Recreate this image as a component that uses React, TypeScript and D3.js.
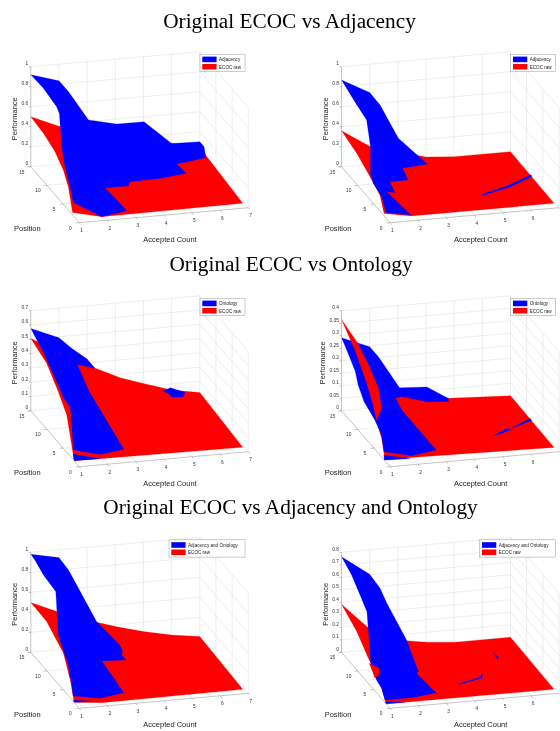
import React from 'react';
import * as d3 from 'd3';

type Vertex = [number, number, number]; // accepted count, position, performance

const countTicks = [1, 2, 3, 4, 5, 6, 7];
const positionTicks = [0, 5, 10, 15];
const perfTicksOne = [0, 0.2, 0.4, 0.6, 0.8, 1];
const perfTicksOnt1 = [0, 0.1, 0.2, 0.3, 0.4, 0.5, 0.6, 0.7];
const perfTicksOnt2 = [0, 0.05, 0.1, 0.15, 0.2, 0.25, 0.3, 0.35, 0.4];
const perfTicksBoth2 = [0, 0.1, 0.2, 0.3, 0.4, 0.5, 0.6, 0.7, 0.8];

const titles = ['Original ECOC vs Adjacency', 'Original ECOC vs Ontology', 'Original ECOC vs Adjacency and Ontology'];
const legendNames = ['Adjacency', 'Ontology', 'Adjacency and Ontology'];
const rawName = 'ECOC raw';

// visible regions of the surfaces
const rawA1: Vertex[] = [[1,15,.5],[2,15,.38],[7,15,.043],[6.94,1.2,0],[1.91,1,0],[1.07,2.7,0],[1,3.4,.23],[1,4.9,.34],[1,7.5,.43],[1,11.1,.48]];
const adjA1: Vertex[] = [[1,15,.92],[2,15,.835],[2.34,15,.717],[3.05,15,.417],[4.05,15,.35],[5.02,15,.35],[6,15,.108],[7,15,.1],[7,13.7,.1],[7,13.1,.01],[5.74,11.2,.05],[5.79,8.67,.05],[4.78,8,.05],[3.7,7.83,.05],[3.52,6.8,.05],[2.71,6.89,.05],[2.85,1.44,.02],[1.85,.5,.02],[1.24,3.94,.05],[1.2,4.6,.18],[1.2,6.2,.32],[1.2,7.2,.487],[1.2,7.9,.793],[1.1,7.9,.863],[1,11.1,.93]];

const rawA2: Vertex[] = [[1,15,.36],[2,15,.18],[4,15,.023],[5,15,0],[7,15,0],[6.96,1.2,0],[1.9,1.2,0],[1.07,2.45,0],[1,3.1,.16],[1,6.7,.24],[1,10.3,.31]];
const adjA2: Vertex[] = [[1,15,.867],[2,15,.718],[2.37,15,.582],[3.02,15,.233],[3.82,13.03,.03],[2.88,12.5,.03],[2.73,9.47,.03],[2.08,9.46,.03],[1.94,6.6,.03],[1.69,7.04,.03],[1.91,1.44,0],[1.16,2.58,0],[1.18,4.17,.1],[1,5.18,.2],[1.05,6.49,.25],[1.1,6.9,.5],[1.02,7.41,.75],[1,10.6,.8]];
const adjA2Streak: Vertex[] = [[4.84,5.04,0],[5.9,6.55,0],[7.01,8.83,0],[7.01,8.39,0],[5.98,6.23,0],[4.86,4.75,0]];

const rawO1: Vertex[] = [[1,15,.506],[3.25,15,.262],[4.17,15,.175],[5,15,.121],[6,15,.057],[7,15,.023],[6.94,1.2,0],[2.03,1.54,0],[1,1.6,0],[1,2.7,.128],[1,3.9,.26],[1,6.5,.355],[1,10.1,.46]];
const ontO1: Vertex[] = [[1,15,.576],[2,15,.494],[2.46,15,.41],[3,15,.327],[3.28,15,.257],[2.57,14.3,.315],[2.76,12.23,.175],[2.88,2.58,.021],[1.95,1.86,.021],[1.19,3.53,.021],[1.25,4.3,.105],[1.39,6.17,.245],[1.18,6.58,.315],[1.11,7.97,.385],[1.09,12,.49]];
const ontO1Strip: Vertex[] = [[1.1,2.79,.014],[1.93,1.52,0],[1,1.6,0]];
const ontO1Island: Vertex[] = [[5.62,14.5,.07],[5.92,14.65,.084],[6.32,13.67,.07],[6.14,12.63,.07],[5.74,12.72,.07],[5.74,13.79,.07]];

const rawO2: Vertex[] = [[3.06,15,.071],[4.8,15,.012],[7,15,0],[6.96,1.17,0],[1.98,1.84,0],[1.03,1.77,0],[1,2.6,.075],[1,4.1,.119],[1.67,8.9,.12]];
const ontO2: Vertex[] = [[1,15,.292],[2,15,.246],[2.31,15,.203],[3.06,15,.071],[4.03,15,.065],[4.8,15,.011],[4.75,14.64,.004],[3.98,14.63,.012],[3.1,14.7,.04],[2.86,14.4,.04],[2.86,12.6,.02],[2.94,2.63,.008],[2,2,.004],[1.17,3.37,.008],[1.34,5.58,.04],[1.26,6.97,.08],[1,8.06,.14],[1,9.87,.18],[1,10.74,.22],[1,12.97,.26]];
const ontO2Strip: Vertex[] = [[1.13,3.03,0],[1.91,1.53,0],[1,1.79,0]];
const rawO2Ridge: Vertex[] = [[1,15,.365],[1.47,14.25,.28],[1.89,14.16,.18],[2,12.29,.12],[1.82,9.73,.08],[1.32,6.94,.08],[1.38,8.68,.12],[1.44,10.88,.16],[1.44,12.67,.2],[1.32,13.65,.26]];
const ontO2StreakA: Vertex[] = [[5.3,5.5,0],[6,7,0],[6.05,6.5,0],[5.3,5.35,0]];
const ontO2StreakB: Vertex[] = [[6.13,7.01,0],[7,8.92,0],[7,8.4,0],[6.11,6.85,0]];

const rawB1: Vertex[] = [[1,15,.497],[2,15,.375],[3.34,15,.242],[4.05,15,.18],[5,15,.107],[6,15,.048],[7,15,.007],[6.93,1.1,0],[1.9,.91,0],[1,1.6,0],[1,2.7,.167],[1,4.9,.367],[1,10.1,.49]];
const bothB1: Vertex[] = [[1,15,.98],[2,15,.922],[2.34,15,.79],[3.34,15,.248],[3.94,13.13,.07],[3.92,12.07,.05],[3.78,11.1,.05],[3.78,9.75,.05],[2.95,10.04,.05],[2.86,2.41,.02],[1.91,1.53,.02],[1.09,2.7,.02],[1.19,3.99,.08],[1.3,6.05,.2],[1.12,7.53,.45],[1.13,8.41,.85],[1,11.09,.92],[1,13.8,.97]];
const bothB1Strip: Vertex[] = [[1.04,2.2,0],[1.87,1.2,0],[1,1.6,0]];

const rawB2: Vertex[] = [[1,15,.384],[2,15,.167],[3.32,15,.047],[4.03,15,.019],[5.04,15,0],[7,15,0],[6.95,1.11,0],[1.9,1.18,0],[1,1.2,0],[1,3.1,.121],[1,6.7,.2],[1,10.3,.307]];
const bothB2: Vertex[] = [[1,15,.765],[2,15,.604],[2.37,15,.485],[2.61,15,.36],[3.27,14.65,.064],[2.9,7.75,.024],[2.79,7.38,.024],[2.94,2.63,.008],[2.05,1.89,.008],[1.07,2.19,0],[1.15,3.92,.04],[1.08,4.87,.08],[1,5.86,.16],[1,7.14,.56],[1,9.08,.624],[1.03,12.14,.704]];
const rawB2Patch: Vertex[] = [[1.03,6.69,.16],[1.36,6.47,.12],[1.26,5.55,.096],[1.03,4.98,.096],[1,5.74,.144]];
const bothB2Strip: Vertex[] = [[1.03,1.77,0],[1.66,1.08,0],[1,1.2,0]];
const bothB2StreakA: Vertex[] = [[3.96,4.62,0],[4.82,5.66,0],[5.03,6.59,0],[4.93,5.58,0],[3.95,4.36,0]];
const bothB2StreakB: Vertex[] = [[6.01,11.65,0],[6.04,10.38,0],[5.94,9.73,0],[5.96,10.52,0]];

const BLUE = '#0000ff';
const RED = '#ff0000';

type Layer = { color: string; points: Vertex[] };
type PanelCfg = {
  ox: number; oy: number; name: string; ticks: number[]; legendW: number; perfLabelDx: number;
  layers: Layer[];
};

const blue = (points: Vertex[]): Layer => ({ color: BLUE, points });
const red = (points: Vertex[]): Layer => ({ color: RED, points });

const LEFT = 79.3;
const RIGHT = 390;
const panels: PanelCfg[] = [
  { ox: LEFT, oy: 222.7, name: legendNames[0], ticks: perfTicksOne, legendW: 45, perfLabelDx: -65, layers: [red(rawA1), blue(adjA1)] },
  { ox: RIGHT, oy: 222.7, name: legendNames[0], ticks: perfTicksOne, legendW: 45, perfLabelDx: -65, layers: [red(rawA2), blue(adjA2), blue(adjA2Streak)] },
  { ox: LEFT, oy: 466.7, name: legendNames[1], ticks: perfTicksOnt1, legendW: 45, perfLabelDx: -65, layers: [red(rawO1), blue(ontO1), blue(ontO1Strip), blue(ontO1Island)] },
  { ox: RIGHT, oy: 466.7, name: legendNames[1], ticks: perfTicksOnt2, legendW: 45, perfLabelDx: -68, layers: [red(rawO2), blue(ontO2), blue(ontO2Strip), red(rawO2Ridge), blue(ontO2StreakA), blue(ontO2StreakB)] },
  { ox: LEFT, oy: 708.3, name: legendNames[2], ticks: perfTicksOne, legendW: 76, perfLabelDx: -65, layers: [red(rawB1), blue(bothB1), blue(bothB1Strip)] },
  { ox: RIGHT, oy: 708.3, name: legendNames[2], ticks: perfTicksBoth2, legendW: 76, perfLabelDx: -65, layers: [red(rawB2), blue(bothB2), red(rawB2Patch), blue(bothB2Strip), blue(bothB2StreakA), blue(bothB2StreakB)] },
];

const GRID = '#dcdcdc';
const AXIS = '#8a8a8a';
const TICK_TEXT = '#333';
const SANS = '"Liberation Sans", Arial, sans-serif';

const Panel = ({ cfg }: { cfg: PanelCfg }) => {
  const zMax = cfg.ticks[cfg.ticks.length - 1];
  const countX = d3.scaleLinear().domain([1, 7]).range([0, 169]);
  const countY = d3.scaleLinear().domain([1, 7]).range([0, -15]);
  const posX = d3.scaleLinear().domain([0, 15]).range([0, -48.5]);
  const posY = d3.scaleLinear().domain([0, 15]).range([0, -56]);
  const perfY = d3.scaleLinear().domain([0, zMax]).range([0, -100]);

  const px = (c: number, p: number) => cfg.ox + countX(c) + posX(p);
  const py = (c: number, p: number, z: number) => cfg.oy + countY(c) + posY(p) + perfY(z);

  const path = d3.line<Vertex>().x((d) => px(d[0], d[1])).y((d) => py(d[0], d[1], d[2]));
  const seg = (a: Vertex, b: Vertex, stroke: string, key: string) => (
    <line key={key} x1={px(a[0], a[1])} y1={py(a[0], a[1], a[2])} x2={px(b[0], b[1])} y2={py(b[0], b[1], b[2])} stroke={stroke} strokeWidth={0.5} />
  );

  const lx = cfg.ox + 165.7 - cfg.legendW;
  const ly = cfg.oy - 168.5;

  return (
    <g>
      {/* walls and floor */}
      {countTicks.slice(1, -1).map((c) => (
        <g key={'gc' + c}>
          {seg([c, 0, 0], [c, 15, 0], GRID, 'f')}
          {seg([c, 15, 0], [c, 15, zMax], GRID, 'w')}
        </g>
      ))}
      {positionTicks.slice(1, -1).map((p) => (
        <g key={'gp' + p}>
          {seg([1, p, 0], [7, p, 0], GRID, 'f')}
          {seg([7, p, 0], [7, p, zMax], GRID, 'w')}
        </g>
      ))}
      {cfg.ticks.slice(1).map((z) => (
        <g key={'gz' + z}>
          {seg([1, 15, z], [7, 15, z], GRID, 'b')}
          {seg([7, 15, z], [7, 0, z], GRID, 'r')}
        </g>
      ))}
      {seg([7, 15, 0], [7, 15, zMax], GRID, 'corner')}
      {seg([7, 0, 0], [7, 0, zMax], GRID, 'front')}
      {seg([1, 15, 0], [7, 15, 0], GRID, 'backfloor')}
      {seg([7, 15, 0], [7, 0, 0], GRID, 'rightfloor')}

      {/* surfaces */}
      {cfg.layers.map((l, i) => (
        <path key={i} d={(path(l.points) as string) + 'Z'} fill={l.color} stroke={l.color} strokeWidth={0.2} />
      ))}

      {/* axes */}
      {seg([1, 0, 0], [7, 0, 0], AXIS, 'ax')}
      {seg([1, 0, 0], [1, 15, 0], AXIS, 'ay')}
      {seg([1, 15, 0], [1, 15, zMax], AXIS, 'az')}
      {countTicks.map((c) => (
        <g key={'c' + c}>
          {seg([c, 0, 0], [c, -0.5, 0], AXIS, 't')}
          {/* the last label falls off the page in the right column */}
          {px(c, 0) + 5 < 560 && (
            <text x={px(c, 0) + 2.3} y={py(c, 0, 0) + 9.6} fontSize={4.8} textAnchor="middle" fill={TICK_TEXT} fontFamily={SANS}>{c}</text>
          )}
        </g>
      ))}
      {positionTicks.map((p) => (
        <g key={'p' + p}>
          {seg([1, p, 0], [0.88, p, 0], AXIS, 't')}
          <text x={px(1, p) - 9} y={py(1, p, 0) + 6.8} fontSize={4.8} textAnchor="middle" fill={TICK_TEXT} fontFamily={SANS}>{p}</text>
        </g>
      ))}
      {cfg.ticks.map((z) => (
        <g key={'z' + z}>
          {seg([1, 15, z], [0.93, 15, z], AXIS, 't')}
          <text x={px(1, 15) - 2.6} y={py(1, 15, z) - 1.6} fontSize={4.8} textAnchor="end" fill={TICK_TEXT} fontFamily={SANS}>{z}</text>
        </g>
      ))}

      <text x={cfg.ox + 90.7} y={cfg.oy + 19} fontSize={7.5} textAnchor="middle" fill="#222" fontFamily={SANS}>Accepted Count</text>
      <text x={cfg.ox - 65.3} y={cfg.oy + 8.6} fontSize={7.5} fill="#222" fontFamily={SANS}>Position</text>
      <text transform={`translate(${cfg.ox + cfg.perfLabelDx + 2.6},${cfg.oy - 104}) rotate(-90)`} fontSize={7.5} textAnchor="middle" fill="#222" fontFamily={SANS}>Performance</text>

      {/* legend */}
      <rect x={lx} y={ly} width={cfg.legendW} height={17.3} fill="#fff" stroke="#999" strokeWidth={0.5} />
      <rect x={lx + 2.3} y={ly + 2.4} width={14.3} height={5.6} fill={BLUE} />
      <rect x={lx + 2.3} y={ly + 9.7} width={14.3} height={5.6} fill={RED} />
      <text x={lx + 19} y={ly + 6.9} fontSize={4.6} fill="#222" fontFamily={SANS}>{cfg.name}</text>
      <text x={lx + 19} y={ly + 14.4} fontSize={4.6} fill="#222" fontFamily={SANS}>{rawName}</text>
    </g>
  );
};

const App = () => (
  <svg
    width={560}
    height={731}
    viewBox="0 0 560 731"
    style={{ position: 'absolute', left: 0, top: 0, background: '#fff' }}
  >
    <defs>
      <filter id="soft" x="0" y="0" width="100%" height="100%">
        <feGaussianBlur stdDeviation="0.4" />
      </filter>
    </defs>
    <rect x={0} y={0} width={560} height={731} fill="#fff" />
    <g filter="url(#soft)">
      {panels.map((p, i) => <Panel key={i} cfg={p} />)}
    </g>
    <g fontFamily='"Liberation Serif", "Times New Roman", serif' fontSize={21.3} textAnchor="middle" fill="#000">
      <text x={289.5} y={27.5}>{titles[0]}</text>
      <text x={291} y={270.5}>{titles[1]}</text>
      <text x={290.5} y={513.5}>{titles[2]}</text>
    </g>
  </svg>
);

export default App;
